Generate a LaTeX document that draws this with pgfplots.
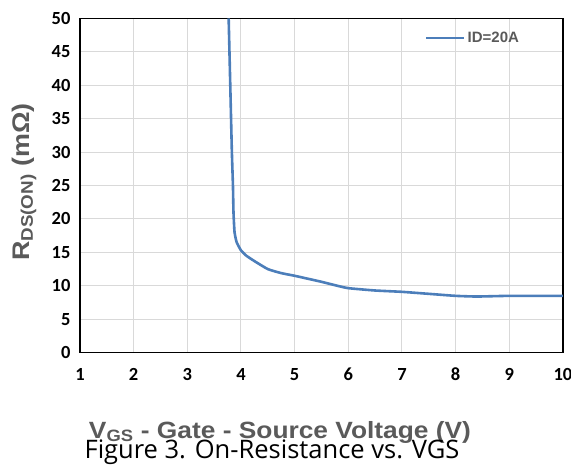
\documentclass[border=0pt]{standalone}
\usepackage{pgfplots}
\pgfplotsset{compat=1.18}
\usepackage{fontspec}
\newfontfamily\tickfont{Carlito}
\newfontfamily\labfont{Liberation Sans}[FakeStretch=1.12]
\newfontfamily\legfont{Liberation Sans}
\newfontfamily\capfont{Open Sans}
\definecolor{curve}{HTML}{4C7EBA}
\definecolor{labgray}{HTML}{5A5A5A}
\definecolor{gridgray}{HTML}{D9D9D9}
\begin{document}
\begin{tikzpicture}
\path[use as bounding box] (-80bp,-122.3bp) rectangle (491bp,352.7bp);
\begin{axis}[
  at={(0,0)}, anchor=origin,
  scale only axis,
  width=483bp, height=334.4bp,
  xmin=1, xmax=10, ymin=0, ymax=50,
  xtick={1,2,...,10}, ytick={0,5,...,50},
  grid=major,
  major grid style={gridgray, line width=1bp},
  major tick length=0pt,
  axis line style={black, line width=1.4bp},
  /pgf/number format/assume math mode=true,
  tick label style={font=\tickfont\bfseries\fontsize{18.5bp}{20bp}\selectfont, black},
  xticklabel style={yshift=-12bp},
  yticklabel style={xshift=-6bp},
  xlabel={V\textsubscript{GS} - Gate - Source Voltage (V)},
  xlabel style={at={(rel axis cs:0.414,0)}, anchor=base, yshift=-85.3bp,
    font=\labfont\bfseries\fontsize{23.5bp}{26bp}\selectfont, text=labgray, inner sep=0pt},
  ylabel={R\textsubscript{DS(ON)} (mΩ)},
  ylabel style={at={(rel axis cs:-0.1159,0.51)}, anchor=center,
    font=\labfont\bfseries\fontsize{24bp}{26bp}\selectfont, text=labgray, inner sep=0pt},
  legend style={at={(rel axis cs:0.714,0.9408)}, anchor=west, draw=none, fill=none,
    inner sep=0pt, font=\legfont\bfseries\fontsize{15bp}{17bp}\selectfont, text=labgray,
    cells={anchor=west}},
  legend image code/.code={\draw[#1] (0bp,0bp) -- (38bp,0bp);},
]
\addplot[curve, line width=2.6bp, smooth, tension=0.3] coordinates {
(3.77,50) (3.80,40) (3.83,30) (3.85,25) (3.86,21) (3.88,18) (3.92,16.5)
(4.0,15.3) (4.1,14.5) (4.25,13.7) (4.5,12.5) (4.75,11.9) (5.0,11.5)
(5.5,10.6) (5.8,10.0) (6.0,9.65) (6.5,9.3) (7.0,9.1) (7.5,8.8) (8.0,8.5)
(8.4,8.4) (9.0,8.5) (10,8.5)
};
\addlegendentry{ID=20A}
\end{axis}
\node[anchor=base, inner sep=0pt, font=\capfont\fontsize{25.5bp}{28bp}\selectfont, text=black]
  at (192bp,-106bp) {Figure 3. On-Resistance vs. VGS};
\end{tikzpicture}
\end{document}
